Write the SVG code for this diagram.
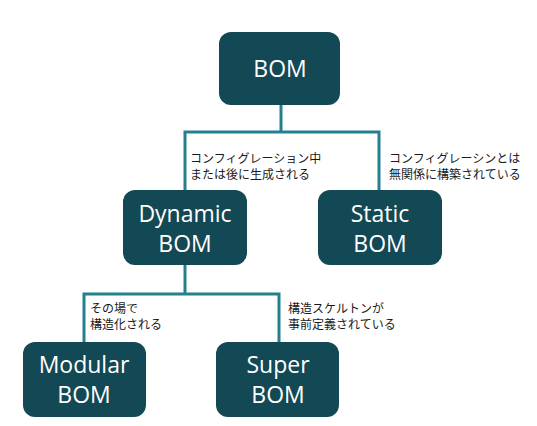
<svg xmlns="http://www.w3.org/2000/svg" width="537" height="426" viewBox="0 0 537 426">
<style>
.box{fill:#134855;}
.t{font-family:"Open Sans","Noto Sans",sans-serif;font-size:23px;fill:#ffffff;text-anchor:middle;}
.lbl{font-family:"Noto Sans CJK JP","Noto Sans",sans-serif;font-size:12px;fill:#1a1a1a;}
.c{fill:none;stroke:#23808f;stroke-width:3;}
</style>
<rect width="537" height="426" fill="#ffffff"/>
<g id="connectors">
<path class="c" d="M281 105 V132 M185 190 V132 H379 V190"/>
<path class="c" d="M185 265 V294 M84 342 V294 H279 V342"/>
</g>
<g id="bom">
<rect class="box" x="219" y="32" width="121" height="73" rx="12"/>
<text class="t" x="280" y="77">BOM</text>
</g>
<g id="dynamic">
<rect class="box" x="123" y="190" width="124" height="75" rx="12"/>
<text class="t" x="185" y="222">Dynamic</text>
<text class="t" x="185" y="252">BOM</text>
</g>
<g id="static">
<rect class="box" x="318" y="190" width="124" height="75" rx="12"/>
<text class="t" x="380" y="222">Static</text>
<text class="t" x="380" y="252">BOM</text>
</g>
<g id="modular">
<rect class="box" x="23" y="342" width="123" height="75" rx="12"/>
<text class="t" x="84" y="373">Modular</text>
<text class="t" x="84" y="403">BOM</text>
</g>
<g id="super">
<rect class="box" x="216" y="342" width="123" height="75" rx="12"/>
<text class="t" x="278" y="373">Super</text>
<text class="t" x="278" y="403">BOM</text>
</g>
<g id="labels">
<text class="lbl" x="190" y="163">コンフィグレーション中</text>
<text class="lbl" x="190" y="179">または後に生成される</text>
<text class="lbl" x="389" y="163">コンフィグレーシンとは</text>
<text class="lbl" x="389" y="179">無関係に構築されている</text>
<text class="lbl" x="90" y="313">その場で</text>
<text class="lbl" x="90" y="329">構造化される</text>
<text class="lbl" x="288" y="313">構造スケルトンが</text>
<text class="lbl" x="288" y="329">事前定義されている</text>
</g>
</svg>
